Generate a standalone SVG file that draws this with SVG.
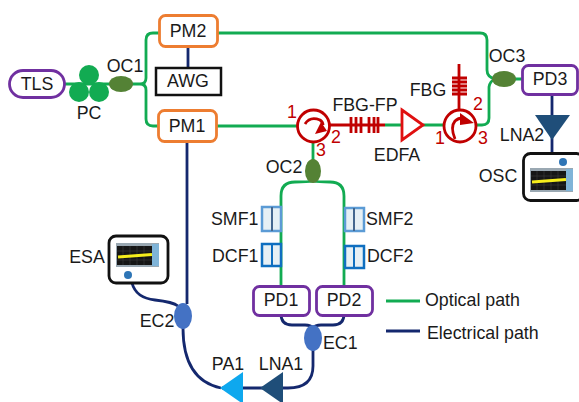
<svg xmlns="http://www.w3.org/2000/svg" width="579" height="402" viewBox="0 0 579 402">
<style>
text{font-family:"Liberation Sans",Arial,sans-serif;font-size:17.800px;fill:#1a1a1a}
.m{text-anchor:middle}
.r{fill:#c00000}
.o{fill:none;stroke:#12ab52;stroke-width:2.800}
.e{fill:none;stroke:#14286e;stroke-width:2.800}
.red{fill:none;stroke:#c00000;stroke-width:2.800}
.pur{fill:#fff;stroke:#7030a0;stroke-width:2.800}
.org{fill:#fff;stroke:#ed7d31;stroke-width:2.800}
.cp{fill:#548235}
.ec{fill:#4472c4}
.inst{fill:#fff;stroke:#111;stroke-width:2.800}
.s1{fill:#e6f0f5;stroke:#5b9bd5;stroke-width:2.500}
.s2{fill:#e6f0f5;stroke:#0f6fc0;stroke-width:2.500}
</style>
<defs>
<g id="scr">
<rect width="43" height="24" fill="#9aa8b2"/>
<rect x="1" y="3" width="35" height="19" fill="#161616"/>
<rect x="36" y="1" width="7" height="22" fill="#7fb4d8"/>
<path d="M7 3V22M14 3V22M21 3V22M28 3V22M1 8H36M1 17H36" stroke="#3c3c3c" stroke-width="0.600" fill="none"/>
<path d="M2 14L36 11.500" stroke="#f6ee1c" stroke-width="3.200" fill="none"/>
</g>
</defs>
<g id="connectors">
<path class="o" d="M65 84H140M140 84Q146 84 146 78V40Q146 33 153 33H160M140 84Q146 84 146 90V119Q146 126 153 126H160"/>
<path class="o" d="M217 33H480Q487 33 487 40V70Q487 77 495 79M495 79Q490 81 489 87V118Q489 125 482 125H476M510 79H524"/>
<path class="o" d="M216 126H298M385 125H403M423 125H445"/>
<path class="o" d="M313 142V160M313 181Q308 182 295 182Q281 182 281 196V287M313 181Q318 182 330 182Q344 182 344 196V287"/>
<path class="e" d="M188 47V69M187 141V304"/>
<path class="e" d="M552 94V154"/>
<path class="e" d="M281 314Q281 325 292 325H305Q311 325 313 328M344 314Q344 325 333 325H321Q315 325 313 328M313 350V366Q313 388 288 388H262M262 388H222M221 388Q183 380 183 328M132 283Q136 298 155 300Q173 302 178 306"/>
<path class="o" d="M386 301H420"/>
<path class="e" d="M386 331H420"/>
</g>
<g id="TLS"><rect class="pur" x="9.500" y="70.500" width="55" height="27" rx="13.500"/><text class="m" x="37" y="90">TLS</text></g>
<g id="PC"><circle cx="89" cy="75" r="10" fill="#12ab52"/><circle cx="79" cy="92" r="10" fill="#12ab52"/><circle cx="99" cy="92" r="10" fill="#12ab52"/><text class="m" x="89" y="119">PC</text></g>
<g id="OC1"><ellipse class="cp" cx="121" cy="84" rx="12" ry="8"/><text class="m" x="125" y="72">OC1</text></g>
<g id="PM2"><rect class="org" x="159.500" y="15.500" width="58" height="31" rx="6"/><text class="m" x="188" y="37">PM2</text></g>
<g id="AWG"><rect x="156" y="68" width="65" height="27" fill="#fff" stroke="#111" stroke-width="2.500"/><text class="m" x="188" y="87">AWG</text></g>
<g id="PM1"><rect class="org" x="158.500" y="110.500" width="58" height="31" rx="6"/><text class="m" x="187" y="132">PM1</text></g>
<g id="CIR1"><circle cx="313.500" cy="126" r="16" fill="#fff" stroke="#c00000" stroke-width="2.800"/><path class="red" stroke-width="2" d="M305 124Q310 116 320 120Q323 122 323 125"/><path d="M321 122L327 131L315 134Z" fill="#c00000"/><text class="r m" x="292" y="118">1</text><text class="r m" x="336" y="143">2</text><text class="r m" x="321" y="156">3</text></g>
<g id="FBG-FP"><path class="red" d="M330 125H385M351 117V133M356 117V133M361 117V133M369 117V133M374 117V133M378 117V133"/><text class="m" x="365" y="111">FBG-FP</text></g>
<g id="EDFA"><path d="M402 110L423 125L402 140Z" fill="#fff" stroke="#e01010" stroke-width="2.800"/><text class="m" x="397" y="161">EDFA</text></g>
<g id="CIR2"><path class="red" d="M459 110V64M452 78H467M452 82H467M452 86H467M452 90H467M452 94H467"/><circle cx="460" cy="126" r="16" fill="#fff" stroke="#c00000" stroke-width="2.800"/><path class="red" stroke-width="2" d="M455 139Q450 127 455 121Q458 118 463 118"/><path d="M460 113L474 123L460 125Z" fill="#c00000"/><text class="r m" x="440" y="144">1</text><text class="r m" x="478" y="110">2</text><text class="r m" x="483" y="144">3</text><text class="m" x="428" y="96">FBG</text></g>
<g id="OC2"><ellipse class="cp" cx="313" cy="171" rx="8" ry="12"/><text class="m" x="284" y="173">OC2</text></g>
<g id="OC3"><ellipse class="cp" cx="504" cy="79" rx="12" ry="8"/><text class="m" x="507" y="62">OC3</text></g>
<g id="PD3"><rect class="pur" x="522.500" y="65.500" width="55" height="29" rx="6"/><text class="m" x="550" y="85">PD3</text></g>
<g id="LNA2"><path d="M535 115H570L552 140Z" fill="#1f4e79"/><text class="m" x="522" y="141">LNA2</text></g>
<g id="OSC"><rect class="inst" x="523.500" y="153.500" width="60" height="47" rx="7"/><use href="#scr" x="530" y="168"/><circle cx="563" cy="162" r="4" fill="#2e75b6"/><text class="m" x="498" y="182">OSC</text></g>
<g id="SMF1"><rect class="s1" x="262" y="207" width="19" height="24"/><path d="M272 207V231" stroke="#44678f" stroke-width="2"/><text x="211" y="225">SMF1</text></g>
<g id="DCF1"><rect class="s2" x="262" y="244" width="19" height="22"/><path d="M272 244V266" stroke="#0f6fc0" stroke-width="2"/><text x="212" y="262">DCF1</text></g>
<g id="SMF2"><rect class="s1" x="345" y="208" width="19" height="23"/><path d="M354 208V231" stroke="#44678f" stroke-width="2"/><text x="366" y="225">SMF2</text></g>
<g id="DCF2"><rect class="s2" x="345" y="246" width="19" height="22"/><path d="M354 246V268" stroke="#0f6fc0" stroke-width="2"/><text x="367" y="262">DCF2</text></g>
<g id="PD1"><rect class="pur" x="253.500" y="286.500" width="56" height="29" rx="6"/><text class="m" x="281" y="306">PD1</text></g>
<g id="PD2"><rect class="pur" x="316.500" y="286.500" width="56" height="29" rx="6"/><text class="m" x="344" y="306">PD2</text></g>
<g id="EC1"><ellipse class="ec" cx="313" cy="338" rx="9" ry="13"/><text x="323" y="349">EC1</text></g>
<g id="LNA1"><path d="M260 388L283 372V404Z" fill="#1f4e79"/><text class="m" x="281" y="370">LNA1</text></g>
<g id="PA1"><path d="M220 388L243 372V404Z" fill="#0ea8ee"/><text class="m" x="228" y="370">PA1</text></g>
<g id="EC2"><ellipse class="ec" cx="183" cy="316" rx="9" ry="13"/><text class="m" x="157" y="327">EC2</text></g>
<g id="ESA"><rect class="inst" x="109" y="236" width="59" height="47" rx="7"/><use href="#scr" x="116" y="243"/><circle cx="128" cy="275" r="4" fill="#2e75b6"/><text class="m" x="87" y="263">ESA</text></g>
<g id="legend"><text x="425" y="306">Optical path</text><text x="427" y="339">Electrical path</text></g>
</svg>
